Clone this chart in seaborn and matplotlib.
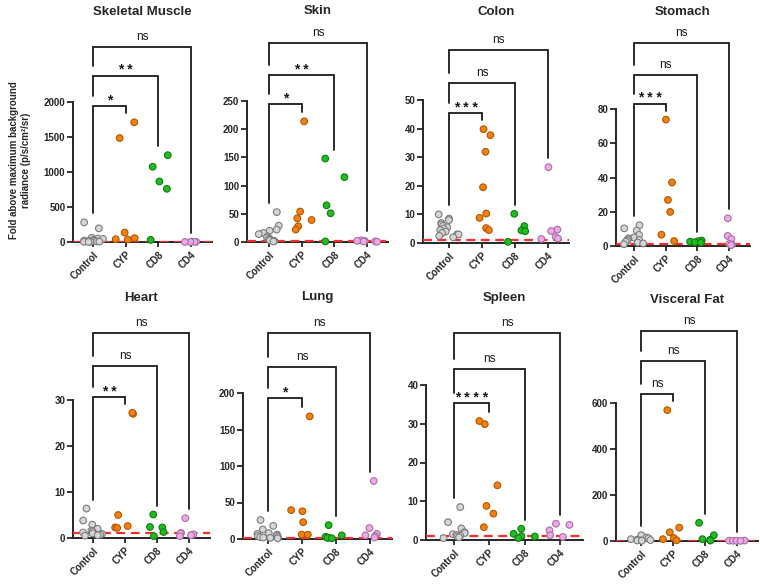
import numpy as np
import pandas as pd
import seaborn as sns
import matplotlib.pyplot as plt

groups = ['Control', 'CYP', 'CD8', 'CD4']
tissues = ['Skeletal Muscle', 'Skin', 'Colon', 'Stomach',
           'Heart', 'Lung', 'Spleen', 'Visceral Fat']

# values: [Control, CYP, CD8, CD4]
skeletal_muscle = [[280, 195, 60, 50, 45, 30, 25, 20, 15, 10, 8, 5, 3, 2, 1],
                   [1710, 1485, 135, 55, 40, 35],
                   [1240, 1075, 865, 760, 30],
                   [5, 3, 2, 1, 1]]
skin = [[53, 29, 22, 20, 16, 14, 10, 8, 6, 5, 4, 3, 2, 1],
        [214, 54, 42, 39, 28, 22],
        [148, 115, 65, 51, 1],
        [3, 2, 1, 1, 0.5, 2]]
colon = [[10, 8.5, 8, 7, 6.5, 6, 5.5, 5, 4.5, 4, 3.5, 3, 3, 2.5, 2],
         [39.8, 37.7, 31.9, 19.5, 10.3, 8.8, 5.2, 4.5],
         [10.2, 5.9, 4.4, 4.1, 0.4],
         [26.5, 4.7, 4.2, 2.1, 1.6, 1.4]]
stomach = [[12.1, 10.3, 9, 6.5, 5, 4.5, 4, 3.5, 3, 2.5, 2, 1.5, 1],
           [73.8, 37.1, 26.9, 19.9, 6.6, 2.9],
           [3.2, 2.8, 2.5, 2.2, 2.0],
           [16.2, 5.9, 4.1, 1.2, 0.8, 0.5]]
heart = [[6.4, 3.8, 2.9, 2.0, 1.6, 1.4, 1.2, 1.0, 0.9, 0.7, 0.6, 0.5],
         [27.0, 27.2, 5.0, 2.6, 2.3, 2.2],
         [5.1, 2.4, 2.3, 1.3, 0.4],
         [4.3, 1.1, 1.0, 0.8, 0.6, 0.4]]
lung = [[26, 18, 13, 8, 7, 6, 5, 4, 3, 2.5, 2, 1.5, 1],
        [168, 39.5, 38, 23, 6, 6],
        [19, 5, 3, 2, 1.5, 1],
        [79.5, 15, 7, 5, 4, 2]]
spleen = [[8.5, 4.6, 3.0, 2.0, 1.8, 1.5, 1.3, 1.1, 0.9, 0.7, 0.5],
          [29.9, 30.7, 14.1, 8.8, 6.8, 3.3],
          [2.9, 1.6, 1.0, 0.9, 0.5],
          [4.2, 3.9, 2.5, 1.2, 0.8]]
visceral_fat = [[25, 15, 12, 8, 6, 4, 3, 2, 1],
                [569, 58, 38, 13, 8, 3],
                [79, 25, 8, 5, 2],
                [2, 1.5, 1, 1, 0.5]]

# significance vs Control for CYP, CD8, CD4
sig_skeletal_muscle = ['*', '**', 'ns']
sig_skin = ['*', '**', 'ns']
sig_colon = ['***', 'ns', 'ns']
sig_stomach = ['***', 'ns', 'ns']
sig_heart = ['**', 'ns', 'ns']
sig_lung = ['*', 'ns', 'ns']
sig_spleen = ['****', 'ns', 'ns']
sig_visceral_fat = ['ns', 'ns', 'ns']

y_max = [2000, 250, 50, 80, 30, 200, 40, 600]
y_step = [500, 50, 10, 20, 10, 50, 10, 200]
threshold = 1

all_data = [skeletal_muscle, skin, colon, stomach, heart, lung, spleen, visceral_fat]
all_sig = [sig_skeletal_muscle, sig_skin, sig_colon, sig_stomach,
           sig_heart, sig_lung, sig_spleen, sig_visceral_fat]

rows = []
for t, d in zip(tissues, all_data):
    for g, vals in zip(groups, d):
        for v in vals:
            rows.append((t, g, v))
df = pd.DataFrame(rows, columns=['tissue', 'group', 'value'])

palette = {'Control': '#d6d6d6', 'CYP': '#f5800f', 'CD8': '#20bd20', 'CD4': '#f3a6ea'}
edges = {'Control': '#7c7c7c', 'CYP': '#b05800', 'CD8': '#0f7d0f', 'CD4': '#a274a0'}

# layout in pixels: spine x, Control x, CD4 x, y of 0, y of top tick, bracket rows, title y
layout = [
    (73, 93, 191, 242, 102, (106, 76, 47), 12),
    (247, 269, 367, 242, 101, (104, 75, 43), 11),
    (423, 449, 548, 243, 100, (113, 83, 50), 12),
    (616, 634, 729, 246, 109, (104, 75, 43), 12),
    (73, 93, 189, 538, 400, (397, 366, 333), 298),
    (243, 268, 370, 539, 393, (398, 367, 333), 297),
    (426, 454, 560, 540, 385, (403, 369, 333), 298),
    (616, 641, 737, 541, 403, (394, 361, 331), 300),
]

sns.set_style('ticks')
plt.rcParams['font.family'] = ['Liberation Sans', 'DejaVu Sans']

W, H = 760, 587
fig = plt.figure(figsize=(7.6, 5.87), dpi=100)

for k, t in enumerate(tissues):
    sx, cx, dx, y0, yt, brk, ty = layout[k]
    top = y_max[k]
    sp = (dx - cx) / 3
    xl = -(cx - sx) / sp
    xr = 3.65
    rx = cx + xr * sp
    ax = fig.add_axes([sx / W, 1 - y0 / H, (rx - sx) / W, (y0 - yt) / H])
    per_px = top / (y0 - yt)

    def p2v(p):
        return top * (y0 - p) / (y0 - yt)

    sub = df[df['tissue'] == t]
    np.random.seed(7 + k)
    sns.stripplot(data=sub, x='group', y='value', hue='group', order=groups,
                  hue_order=groups, palette=palette, jitter=0.32, size=4.8,
                  linewidth=0.8, ax=ax, legend=False, zorder=3, clip_on=False)
    for coll in ax.collections:
        fc = coll.get_facecolor()
        if len(fc) == 0:
            continue
        for g in groups:
            if np.allclose(fc[0][:3], plt.matplotlib.colors.to_rgb(palette[g]), atol=0.01):
                coll.set_edgecolor(edges[g])

    ax.axhline(threshold, color='#ff2b2b', ls=(0, (4, 2.5)), lw=1.6, zorder=2.7)

    ax.set_xlim(xl, xr)
    ax.set_ylim(0, top)
    ax.set_yticks(np.arange(0, top + y_step[k] / 2, y_step[k]))
    ax.set_xlabel('')
    ax.set_ylabel('')
    sns.despine(ax=ax)
    for s in ['left', 'bottom']:
        ax.spines[s].set_linewidth(1.4)
    ax.tick_params(axis='y', length=4, width=1.3, pad=1.5, labelsize=7)
    ax.tick_params(axis='x', length=3.5, width=1.3, pad=2, labelsize=7)
    for lab in ax.get_yticklabels():
        lab.set_fontweight('bold')
    for lab in ax.get_xticklabels():
        lab.set_fontweight('bold')
        lab.set_rotation(45)
        lab.set_ha('right')
        lab.set_rotation_mode('anchor')

    # comparison brackets
    d = all_data[k]
    for i, lab in enumerate(all_sig[k]):
        j = i + 1
        yb = p2v(brk[i])
        r_bot = min(max(d[j]) + 9 * per_px, yb - 3 * per_px)
        if i == 0:
            l_bot = min(max(d[0]) + 9 * per_px, yb - 3 * per_px)
        else:
            l_bot = p2v(brk[i - 1] - 10)
        ax.plot([0, 0, j, j], [l_bot, yb, yb, r_bot], color='#1a1a1a', lw=1.3,
                clip_on=False, solid_joinstyle='miter', zorder=4)
        if lab == 'ns':
            ax.text(j / 2, yb + 7 * per_px, 'ns', ha='center', va='baseline',
                    fontsize=8.5, color='#1a1a1a')
        else:
            ax.text(j / 2, yb + 1.5 * per_px, ' '.join(lab), ha='center',
                    va='baseline', fontsize=10, fontweight='bold', color='#1a1a1a')

    fig.text((sx + rx) / 2 / W, 1 - ty / H, t, ha='center', va='center',
             fontsize=9.5, fontweight='bold')

fig.text(20 / W, 1 - 160 / H, 'Fold above maximum background\nradiance (p/s/cm²/sr)',
         rotation=90, ha='center', va='center', fontsize=7, fontweight='bold',
         multialignment='center')

fig.savefig('out.png', dpi=100)
